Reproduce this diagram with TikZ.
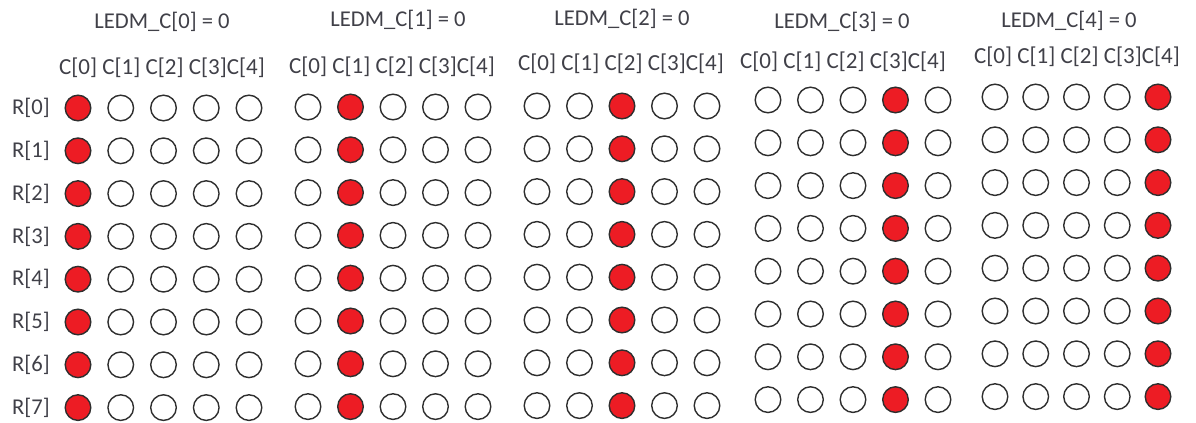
\documentclass[tikz,border=0pt]{standalone}
\usepackage{fontspec}
\setmainfont{Carlito}
\usetikzlibrary{positioning}
\definecolor{LedRed}{HTML}{ED1C24}
\definecolor{Rim}{HTML}{2E2E2E}
\definecolor{Label}{HTML}{404048}

\tikzset{
  led/.style={circle,draw=Rim,line width=0.7pt,minimum size=12.8pt,inner sep=0pt},
  title/.style={text=Label,font=\fontsize{11.3}{13}\selectfont,inner sep=0pt},
  head/.style={text=Label,font=\fontsize{11.5}{13}\selectfont,inner sep=0pt},
  rowlab/.style={text=Label,font=\fontsize{11.3}{13}\selectfont,inner sep=0pt}
}

\begin{document}
\begin{tikzpicture}[x=0.5pt,y=-0.5pt]
        \useasboundingbox (0,0) rectangle (1196,423);

        % one panel per column driven low
        \foreach \p/\px/\py/\dx/\tx/\ty/\hx/\hy in {
          0/78/108/42.75/162/22/162/68,
          1/308/107/42.5/398/20/392/67,
          2/537/106/42.5/622/19/621/64,
          3/768/100/42.5/842/22/843/62,
          4/995/97/40.75/1069/21/1077/57}{
          \node[title] (title\p) at (\tx,\ty) {LEDM\_C[\p] = 0};
          \node[head] (head\p) at (\hx,\hy) {C[0] C[1] C[2] C[3]C[4]};
          \foreach \r in {0,...,7}
            \foreach \c in {0,...,4}{
              \ifnum\c=\p \def\fillc{LedRed}\else\def\fillc{white}\fi
              \node[led,fill=\fillc] (led\p-\r-\c)
                at (\px+\c*\dx,\py+\r*42.8) {};
            }
        }

        \foreach \r in {0,...,7}
          \node[rowlab] (row\r) at (31,108+\r*42.8) {R[\r]};
      \end{tikzpicture}
\end{document}
